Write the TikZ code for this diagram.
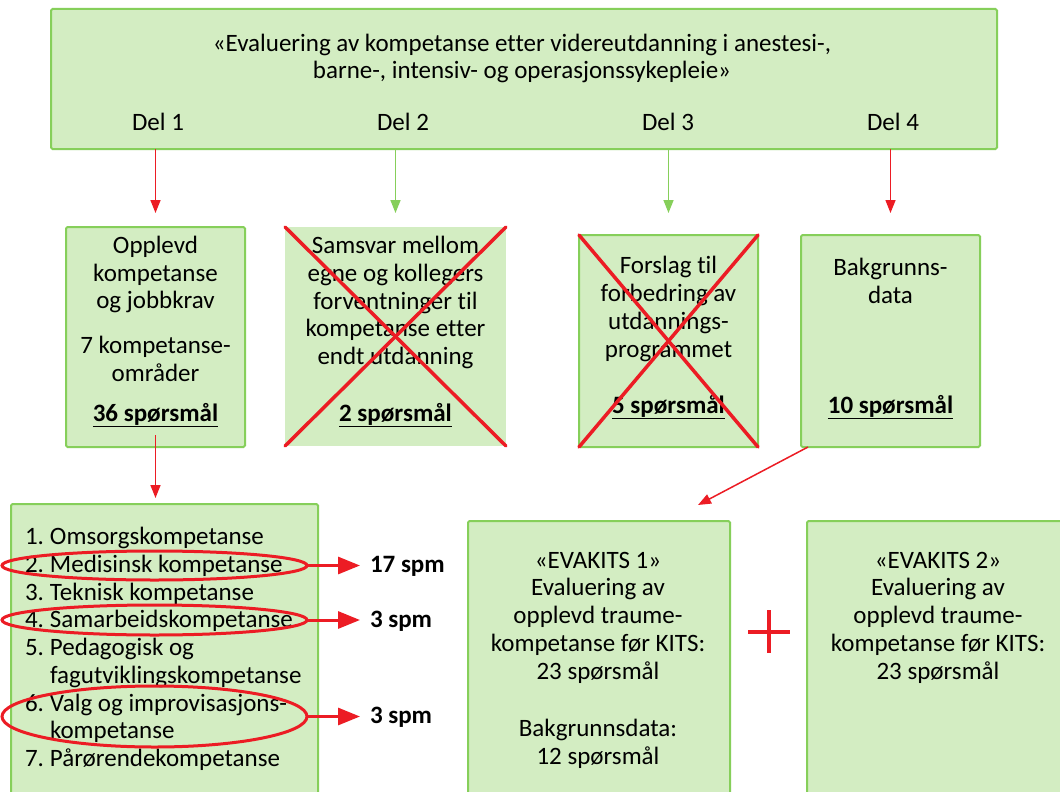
\documentclass[tikz,border=0pt]{standalone}
\usepackage{fontspec}
\setmainfont[Ligatures=NoCommon]{Carlito}
\usetikzlibrary{arrows.meta,shapes.geometric,calc}
\definecolor{boxfill}{HTML}{D3EDC2}
\definecolor{boxline}{HTML}{86CF5A}
\definecolor{xred}{HTML}{EC1C24}
\begin{document}
\begin{tikzpicture}[x=1pt,y=-1pt,
  every node/.style={font=\fontsize{25}{27.7}\selectfont, inner sep=0pt, outer sep=0pt},
  box/.style={draw=boxline, line width=2pt, fill=boxfill, rounded corners=1.5pt, anchor=north west},
  plainbox/.style={fill=boxfill, anchor=north west},
  txt/.style={align=center},
  btxt/.style={align=center, font=\fontsize{25}{27.7}\selectfont\bfseries},
  ltxt/.style={align=left, anchor=west},
  redarrow/.style={draw=xred, line width=1.5pt, -{Triangle[length=13pt,width=10pt]}},
  greenarrow/.style={draw=boxline, line width=1.5pt, -{Triangle[length=13pt,width=10pt]}},
  bigarrow/.style={draw=xred, line width=3pt, -{Triangle[length=22pt,width=17pt]}},
  xline/.style={draw=xred, line width=3.5pt, line cap=round},
  ring/.style={ellipse, draw=xred, line width=3pt},
  spm/.style={font=\fontsize{25}{27.7}\selectfont\bfseries, anchor=west}
]
\clip (0,0) rectangle (1060,792);
\fill[white] (0,0) rectangle (1060,792);

% top box
\node[box, minimum width=946pt, minimum height=140pt] (top) at (51,9) {};
\node[txt] (title) at (522,58.5) {«Evaluering av kompetanse etter videreutdanning i anestesi-,\\barne-, intensiv- og operasjonssykepleie»};
\node (del1) at (158,122) {Del 1};
\node (del2) at (403,122) {Del 2};
\node (del3) at (668,122) {Del 3};
\node (del4) at (893,122) {Del 4};

% second row boxes
\node[box, minimum width=179pt, minimum height=220pt] (b1) at (66,227) {};
\node[plainbox, minimum width=221pt, minimum height=219pt] (b2) at (285,227) {};
\node[box, minimum width=179pt, minimum height=212pt] (b3) at (579,235) {};
\node[box, minimum width=179pt, minimum height=212pt] (b4) at (801,235) {};

\node[txt] (b1a) at (155.5,274.5) {Opplevd\\kompetanse\\og jobbkrav};
\node[txt] (b1b) at (155.5,359) {7 kompetanse-\\områder};
\node[btxt] (b1c) at (155.5,415) {\underline{36 spørsmål}};

\node[txt] (b2a) at (395.5,302.5) {Samsvar mellom\\egne og kollegers\\forventninger til\\kompetanse etter\\endt utdanning};
\node[btxt] (b2c) at (395.5,415) {\underline{2 spørsmål}};

\node[txt] (b3a) at (668.5,309) {Forslag til\\forbedring av\\utdannings-\\programmet};
\node[btxt] (b3c) at (668.5,407) {\underline{5 spørsmål}};

\node[txt] (b4a) at (890.5,281) {Bakgrunns-\\data};
\node[btxt] (b4c) at (890.5,407) {\underline{10 spørsmål}};

% crosses
\draw[xline] (b2.north west) -- (b2.south east);
\draw[xline] (b2.north east) -- (b2.south west);
\draw[xline] (b3.north west) -- (b3.south east);
\draw[xline] (b3.north east) -- (b3.south west);

% arrows from top box
\draw[redarrow, shorten >=14pt] (top.south -| b1.north) -- (b1.north);
\draw[greenarrow, shorten >=14pt] (top.south -| b2.north) -- (b2.north);
\draw[greenarrow, shorten >=22pt] (top.south -| b3.north) -- (b3.north);
\draw[redarrow, shorten >=22pt] (top.south -| b4.north) -- (b4.north);

% bottom boxes
\node[box, minimum width=307pt, minimum height=300pt] (list) at (11,504) {};
\node[box, minimum width=262pt, minimum height=290pt] (ev1) at (468,521) {};
\node[box, minimum width=300pt, minimum height=290pt] (ev2) at (807,521) {};

\draw[redarrow, shorten <=-12pt, shorten >=6pt] (b1.south) -- (list.north -| b1.south);
\draw[redarrow] ($(b4.south west)+(7,0)$) -- ($(ev1.north east)+(-32,-16)$);

% list
\node[ltxt] (items) at (25,649) {%
\makebox[25pt][l]{1.}Omsorgskompetanse\\
\makebox[25pt][l]{2.}Medisinsk kompetanse\\
\makebox[25pt][l]{3.}Teknisk kompetanse\\
\makebox[25pt][l]{4.}Samarbeidskompetanse\\
\makebox[25pt][l]{5.}Pedagogisk og\\
\hspace*{25pt}fagutviklingskompetanse\\
\makebox[25pt][l]{6.}Valg og improvisasjons-\\
\hspace*{25pt}kompetanse\\
\makebox[25pt][l]{7.}Pårørendekompetanse};

\node[ring, minimum width=305pt, minimum height=29pt] (e1) at (154.5,565.5) {};
\node[ring, minimum width=305pt, minimum height=30pt] (e2) at (154.5,620) {};
\node[ring, minimum width=305pt, minimum height=61pt] (e3) at (154.5,716.5) {};

\node[spm] (s1) at (370,566) {17 spm};
\node[spm] (s2) at (370,621) {3 spm};
\node[spm] (s3) at (370,717) {3 spm};
\draw[bigarrow, shorten >=10pt] (e1.east) -- (e1.east -| s1.west);
\draw[bigarrow, shorten >=10pt] (e2.east) -- (e2.east -| s2.west);
\draw[bigarrow, shorten >=10pt] (e3.east) -- (e3.east -| s3.west);

% EVAKITS texts
\node[txt] (ev1a) at (598,617.5) {«EVAKITS 1»\\Evaluering av\\opplevd traume-\\kompetanse før KITS:\\23 spørsmål};
\node[txt] (ev1b) at (598,743.5) {Bakgrunnsdata:\\12 spørsmål};
\node[txt] (ev2a) at (938,617.5) {«EVAKITS 2»\\Evaluering av\\opplevd traume-\\kompetanse før KITS:\\23 spørsmål};

% plus
\coordinate (plus) at (769,632);
\draw[draw=xred, line width=3.5pt] ($(plus)+(-21,0)$) -- ($(plus)+(21,0)$);
\draw[draw=xred, line width=3.5pt] ($(plus)+(0,-22)$) -- ($(plus)+(0,21)$);
\end{tikzpicture}
\end{document}
